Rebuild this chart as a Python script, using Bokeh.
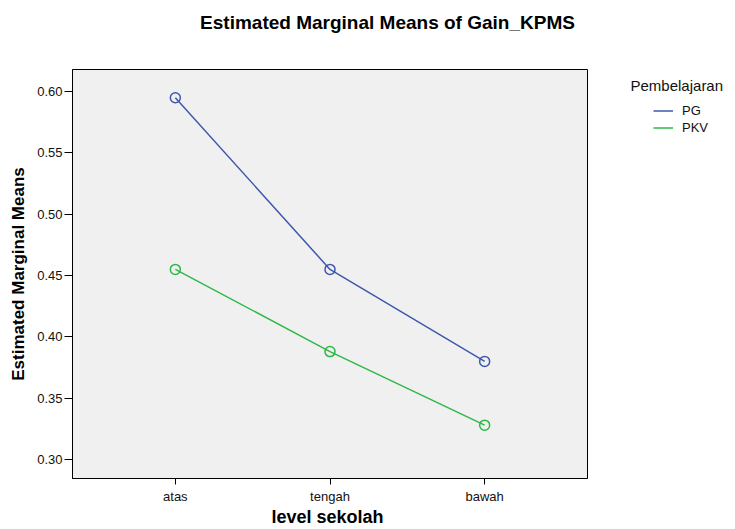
from bokeh.plotting import figure
from bokeh.layouts import column, row
from bokeh.models import (FactorRange, Range1d, FixedTicker, NumeralTickFormatter,
                          Legend, LegendItem, Label)
from bokeh.embed import file_html
from bokeh.resources import INLINE

categories = ["atas", "tengah", "bawah"]
pg_values = [0.595, 0.455, 0.380]
pkv_values = [0.455, 0.388, 0.328]
series_names = ["PG", "PKV"]
legend_title = "Pembelajaran"
chart_title = "Estimated Marginal Means of Gain_KPMS"
y_ticks = [0.30, 0.35, 0.40, 0.45, 0.50, 0.55, 0.60]

BLUE = "#3e58ac"
GREEN = "#2eb848"
FONT = "Liberation Sans"
TOP_H = 46
FRAME_H = 409   # plot frame height (shared by the row)


def blank(width, height, **kw):
    f = figure(width=width, height=height, output_backend="svg",
               toolbar_location=None, x_axis_location=None,
               y_axis_location=None, min_border=0, **kw)
    f.outline_line_color = None
    f.grid.visible = False
    return f


# ---- title strip ----
tfig = blank(735, TOP_H)
tfig.add_layout(Label(x=387, y=TOP_H - 22, x_units="screen", y_units="screen",
                      text=chart_title, text_font=FONT, text_font_style="bold",
                      text_font_size="19px", text_align="center",
                      text_baseline="middle", text_color="black"))

# ---- main plot ----
p = figure(width=600, height=529 - TOP_H, output_backend="svg",
           toolbar_location=None,
           x_range=FactorRange(*categories, range_padding=0.165,
                               range_padding_units="absolute"),
           y_range=Range1d(0.2845, 0.618),
           min_border_left=72, min_border_right=13,
           min_border_top=69 - TOP_H, min_border_bottom=51)
p.background_fill_color = "#f0f0f0"
p.border_fill_color = "white"
p.outline_line_color = "black"
p.outline_line_width = 1
p.xgrid.visible = False
p.ygrid.visible = False

p.line(categories, pg_values, line_color=BLUE, line_width=1.5)
p.scatter(categories, pg_values, marker="circle", size=10, line_color=BLUE,
          line_width=1.5, fill_color=None)
p.line(categories, pkv_values, line_color=GREEN, line_width=1.5)
p.scatter(categories, pkv_values, marker="circle", size=10, line_color=GREEN,
          line_width=1.5, fill_color=None)

p.yaxis.ticker = FixedTicker(ticks=y_ticks)
p.yaxis.formatter = NumeralTickFormatter(format="0.00")
for ax in (p.xaxis[0], p.yaxis[0]):
    ax.axis_line_color = "black"
    ax.major_tick_line_color = "black"
    ax.minor_tick_line_color = None
    ax.major_tick_in = 0
    ax.major_label_text_font = FONT
    ax.major_label_text_font_size = "13px"
    ax.major_label_text_color = "#111111"
    ax.axis_label_text_font = FONT
    ax.axis_label_text_font_style = "bold"
    ax.axis_label_text_color = "black"

p.yaxis.major_tick_out = 8
p.yaxis.major_label_standoff = 2
p.yaxis.axis_label = "Estimated Marginal Means"
p.yaxis.axis_label_text_font_size = "17px"
p.yaxis.axis_label_standoff = 6

p.xaxis.major_tick_out = 6
p.xaxis.major_label_standoff = 4
p.xaxis.axis_label = "level  sekolah"
p.xaxis.axis_label_text_font_size = "18px"
p.xaxis.axis_label_standoff = 0

# ---- legend strip (its frame is aligned with the main plot frame) ----
lfig = blank(135, 529 - TOP_H, x_range=FactorRange(*categories),
             y_range=Range1d(10, 11))
l1 = lfig.line(categories, pg_values, line_color=BLUE, line_width=1.5)
l2 = lfig.line(categories, pkv_values, line_color=GREEN, line_width=1.5)
lfig.add_layout(Label(x=30, y=FRAME_H - 16, x_units="screen", y_units="screen",
                      text=legend_title, text_font=FONT, text_font_size="15px",
                      text_align="left", text_baseline="middle",
                      text_color="#111111"))
legend = Legend(items=[LegendItem(label=series_names[0], renderers=[l1]),
                       LegendItem(label=series_names[1], renderers=[l2])],
                location=(53, FRAME_H - 67), padding=0, margin=0, spacing=0,
                glyph_width=20, glyph_height=17, label_height=17,
                label_standoff=9, label_text_font=FONT,
                label_text_font_size="13px", label_text_color="#111111",
                border_line_color=None, background_fill_alpha=0)
lfig.add_layout(legend)

layout = column(tfig, row(p, lfig))
open("out.html", "w").write(file_html(layout, INLINE))
